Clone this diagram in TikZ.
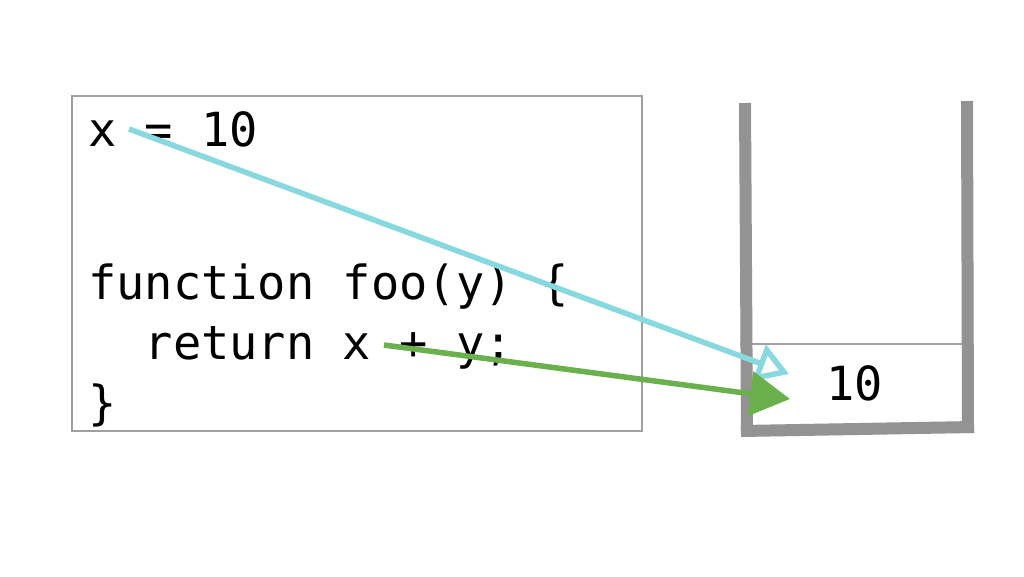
\documentclass[tikz,border=0pt]{standalone}
\usepackage{fontspec}
\setmonofont{DejaVu Sans Mono}
\usetikzlibrary{arrows.meta}
\definecolor{boxgray}{HTML}{A0A0A0}
\definecolor{wallgray}{HTML}{939393}
\definecolor{cyanline}{HTML}{88D8E0}
\definecolor{greenline}{HTML}{6AB04C}
\tikzset{
  code/.style={anchor=base west, inner sep=0pt, font=\ttfamily\fontsize{47pt}{56pt}\selectfont, text=black},
  wall/.style={draw=wallgray, line width=12pt},
  refarrow/.style={draw=cyanline, line width=5.5pt, -{Triangle[open, length=32pt, width=38pt]}},
  valarrow/.style={draw=greenline, line width=5.5pt, -{Triangle[length=40pt, width=44pt]}},
}
\begin{document}
\begin{tikzpicture}[x=1pt, y=-1pt]
\useasboundingbox (0,0) rectangle (1024,576);
\fill[white] (0,0) rectangle (1024,576);
% code box
\draw[boxgray, line width=1.8pt] (72,96) rectangle (642,431);
\node[code] (l1) at (88,146) {x = 10};
\node[code] (l2) at (88,299) {function foo(y) \{};
\node[code] (l3) at (88,359) {\ \ return x + y;};
\node[code] (l4) at (88,419) {\}};
% stack
\draw[boxgray, line width=1.5pt] (740,344) -- (963,344);
\draw[wall] (745,103) -- (747,433);
\draw[wall] (967,101) -- (968,433);
\draw[wall] (741,431) -- (974,427);
\node[code] (slot) at (826,400) {10};
% connectors
\coordinate (xref) at (129,129);
\coordinate (xuse) at (384,345);
\coordinate (reftip) at (789,374);
\coordinate (valtip) at (790,399);
\draw[refarrow] (xref) -- (reftip);
\draw[valarrow] (xuse) -- (valtip);
\end{tikzpicture}
\end{document}
